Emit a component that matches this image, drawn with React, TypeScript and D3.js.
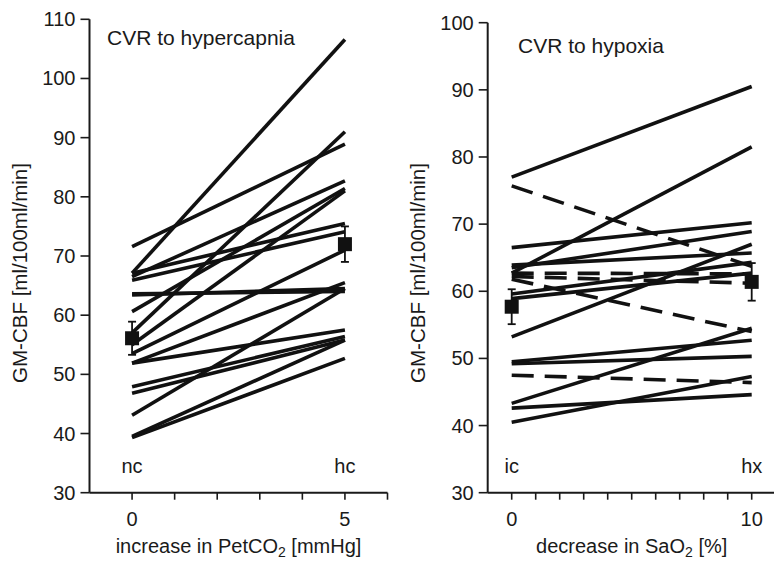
import { useEffect, useRef } from "react";
import * as d3 from "d3";

// CVR to hypercapnia: GM-CBF at normocapnia (nc) and hypercapnia (hc)
const ncValues = [71.6, 67.1, 67.1, 65.9, 66.5, 63.4, 63.6, 60.6, 57.0, 55.0, 53.5, 51.9, 51.9, 47.9, 46.8, 43.1, 39.5, 39.3];
const hcValues = [88.9, 106.6, 75.5, 74.1, 82.7, 64.5, 64.0, 81.4, 91.0, 81.0, 71.0, 65.5, 57.5, 56.4, 55.8, 64.5, 55.8, 52.7];
const hcMean = [56.1, 72.0];
const hcErr = [2.8, 3.0];

// CVR to hypoxia: GM-CBF at isocapnia (ic) and hypoxia (hx)
const icValues = [77.0, 62.7, 66.5, 63.5, 63.9, 59.6, 58.9, 53.2, 49.5, 49.2, 43.3, 42.6, 40.5, 75.7, 62.7, 62.2, 61.8, 47.5];
const hxValues = [90.5, 81.5, 70.2, 68.9, 65.7, 64.3, 62.7, 67.0, 52.7, 50.3, 54.5, 44.6, 47.3, 63.7, 62.6, 61.2, 54.0, 46.4];
const hxDashed = [false, false, false, false, false, false, false, false, false, false, false, false, false, true, true, true, true, true];
const hxMean = [57.7, 61.4];
const hxErr = [2.6, 2.8];

const leftTicksY = [30, 40, 50, 60, 70, 80, 90, 100, 110];
const rightTicksY = [30, 40, 50, 60, 70, 80, 90, 100];

const FONT = "'Liberation Sans', Arial, Helvetica, sans-serif";
const INK = "#1a1a1a";

const App = () => {
  const svgRef = useRef(null);

  useEffect(() => {
    const svg = d3.select(svgRef.current);
    svg.selectAll("*").remove();

    const drawPanel = (opts) => {
      const { x, y, yTicks, xTicks, xLabelTicks, x1, a, b, dashed, mean, err, title, titleX, titleY, markA, markB, xLabel, sub, xLabelRest, yLabelX } = opts;
      const g = svg.append("g");
      const [x0, xEnd] = x.range();
      const y0 = y.range()[0];

      // y axis
      g.append("line")
        .attr("x1", x0).attr("x2", x0)
        .attr("y1", y.range()[1]).attr("y2", y0)
        .attr("stroke", INK).attr("stroke-width", 2);
      g.selectAll("line.yt").data(yTicks).join("line")
        .attr("class", "yt")
        .attr("x1", x0 - 9).attr("x2", x0)
        .attr("y1", d => y(d)).attr("y2", d => y(d))
        .attr("stroke", INK).attr("stroke-width", 1.6);
      g.selectAll("text.yl").data(yTicks).join("text")
        .attr("class", "yl")
        .attr("x", x0 - 14).attr("y", d => y(d) + 7)
        .attr("text-anchor", "end")
        .style("font-family", FONT).style("font-size", "20px").attr("fill", INK)
        .text(d => d);

      // x axis
      g.append("line")
        .attr("x1", x0).attr("x2", xEnd)
        .attr("y1", y0).attr("y2", y0)
        .attr("stroke", INK).attr("stroke-width", 2);
      g.selectAll("line.xt").data(xTicks).join("line")
        .attr("class", "xt")
        .attr("x1", d => x(d)).attr("x2", d => x(d))
        .attr("y1", y0).attr("y2", y0 + 7)
        .attr("stroke", INK).attr("stroke-width", 1.6);
      g.selectAll("text.xl").data(xLabelTicks).join("text")
        .attr("class", "xl")
        .attr("x", d => x(d)).attr("y", y0 + 33)
        .attr("text-anchor", "middle")
        .style("font-family", FONT).style("font-size", "20px").attr("fill", INK)
        .text(d => d);

      // subject lines
      g.selectAll("line.subj").data(a).join("line")
        .attr("class", "subj")
        .attr("x1", x(0)).attr("x2", x(x1))
        .attr("y1", d => y(d)).attr("y2", (d, i) => y(b[i]))
        .attr("stroke", "#111").attr("stroke-width", 3.6)
        .attr("stroke-dasharray", (d, i) => (dashed && dashed[i] ? "22,11" : null));

      // mean ± error
      const px = [0, x1];
      g.selectAll("line.err").data(mean).join("line")
        .attr("class", "err")
        .attr("x1", (d, i) => x(px[i])).attr("x2", (d, i) => x(px[i]))
        .attr("y1", (d, i) => y(d + err[i])).attr("y2", (d, i) => y(d - err[i]))
        .attr("stroke", "#111").attr("stroke-width", 1.8);
      [1, -1].forEach(s => {
        g.selectAll(`line.cap${s}`).data(mean).join("line")
          .attr("class", `cap${s}`)
          .attr("x1", (d, i) => x(px[i]) - 4).attr("x2", (d, i) => x(px[i]) + 4)
          .attr("y1", (d, i) => y(d + s * err[i])).attr("y2", (d, i) => y(d + s * err[i]))
          .attr("stroke", "#111").attr("stroke-width", 1.8);
      });
      g.selectAll("rect.mean").data(mean).join("rect")
        .attr("class", "mean")
        .attr("x", (d, i) => x(px[i]) - 7).attr("y", d => y(d) - 7)
        .attr("width", 14).attr("height", 14)
        .attr("fill", "#111");

      // annotations
      g.append("text")
        .attr("x", titleX).attr("y", titleY)
        .style("font-family", FONT).style("font-size", "21px").attr("fill", INK)
        .text(title);
      g.append("text")
        .attr("x", x(0)).attr("y", 473)
        .attr("text-anchor", "middle")
        .style("font-family", FONT).style("font-size", "20px").attr("fill", INK)
        .text(markA);
      g.append("text")
        .attr("x", x(x1)).attr("y", 473)
        .attr("text-anchor", "middle")
        .style("font-family", FONT).style("font-size", "20px").attr("fill", INK)
        .text(markB);

      const xl = g.append("text")
        .attr("x", (x0 + xEnd) / 2).attr("y", 553)
        .attr("text-anchor", "middle")
        .style("font-family", FONT).style("font-size", "20px").attr("fill", INK);
      xl.append("tspan").text(xLabel);
      xl.append("tspan").attr("dy", 4).style("font-size", "14px").text(sub);
      xl.append("tspan").attr("dy", -4).text(xLabelRest);

      g.append("text")
        .attr("transform", `translate(${yLabelX},273) rotate(-90)`)
        .attr("text-anchor", "middle")
        .attr("dy", "0.35em")
        .style("font-family", FONT).style("font-size", "20.5px").attr("fill", INK)
        .text("GM-CBF [ml/100ml/min]");
    };

    drawPanel({
      x: d3.scaleLinear().domain([-1, 6]).range([89.5, 387.5]),
      y: d3.scaleLinear().domain([30, 110]).range([492.7, 19.3]),
      yTicks: leftTicksY,
      xTicks: d3.range(0, 7),
      xLabelTicks: [0, 5],
      x1: 5,
      a: ncValues,
      b: hcValues,
      dashed: null,
      mean: hcMean,
      err: hcErr,
      title: "CVR to hypercapnia",
      titleX: 107,
      titleY: 45,
      markA: "nc",
      markB: "hc",
      xLabel: "increase in PetCO",
      sub: "2",
      xLabelRest: " [mmHg]",
      yLabelX: 20,
    });

    drawPanel({
      x: d3.scaleLinear().domain([-1, 11]).range([487.7, 775.7]),
      y: d3.scaleLinear().domain([30, 100]).range([492.7, 22.7]),
      yTicks: rightTicksY,
      xTicks: d3.range(0, 11),
      xLabelTicks: [0, 10],
      x1: 10,
      a: icValues,
      b: hxValues,
      dashed: hxDashed,
      mean: hxMean,
      err: hxErr,
      title: "CVR to hypoxia",
      titleX: 518,
      titleY: 53,
      markA: "ic",
      markB: "hx",
      xLabel: "decrease in SaO",
      sub: "2",
      xLabelRest: " [%]",
      yLabelX: 418,
    });

    return () => {
      svg.selectAll("*").remove();
    };
  }, []);

  return (
    <div style={{ position: "absolute", left: 0, top: 0 }}>
      <svg ref={svgRef} width={774} height={562} style={{ display: "block", background: "#fff" }}></svg>
    </div>
  );
};

export default App;
